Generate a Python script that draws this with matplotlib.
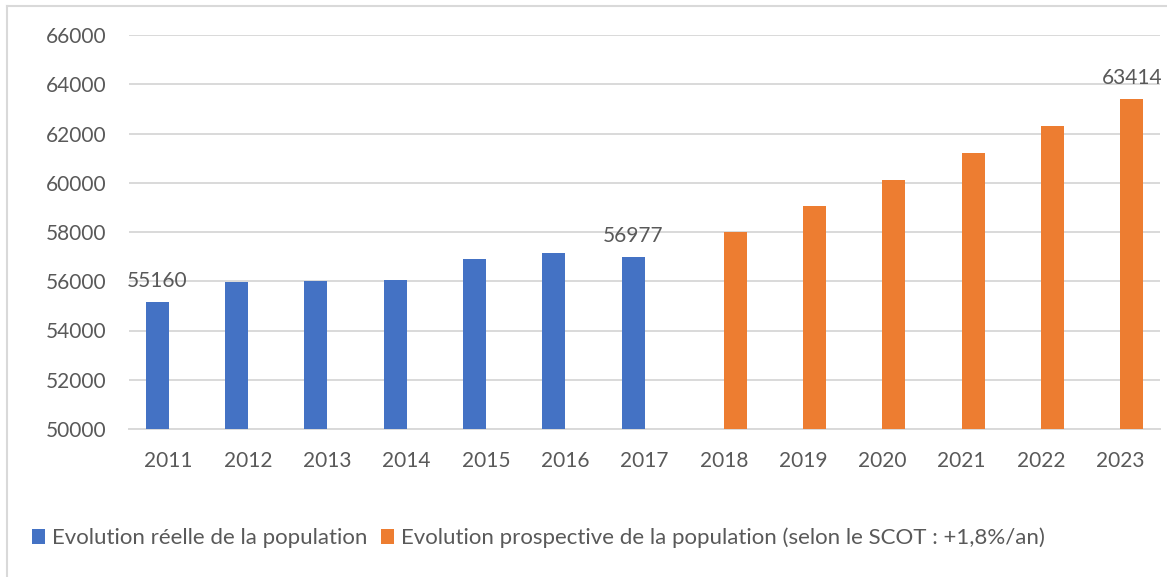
import numpy as np
import matplotlib.pyplot as plt
from matplotlib.lines import Line2D

years = ["2011", "2012", "2013", "2014", "2015", "2016", "2017",
         "2018", "2019", "2020", "2021", "2022", "2023"]
reelle = [55160, 55950, 56000, 56050, 56900, 57160, 56977,
          None, None, None, None, None, None]
prospective = [None, None, None, None, None, None, None,
               58003, 59047, 60110, 61192, 62293, 63414]
labelled = {"2011": 55160, "2017": 56977, "2023": 63414}

label_reelle = "Evolution réelle de la population"
label_prosp = "Evolution prospective de la population (selon le SCOT : +1,8%/an)"

blue = "#4472C4"
orange = "#ED7D31"
grey_text = "#595959"
grid_col = "#D9D9D9"

plt.rcParams['font.family'] = ['Lato', 'DejaVu Sans']

W, H = 1167, 577
fig = plt.figure(figsize=(W / 100, H / 100), dpi=100)
ax = fig.add_axes([129 / W, 1 - 429 / H, 1031 / W, (429 - 35) / H])

x = np.arange(len(years))
w = 0.29
xr = [i for i, v in zip(x, reelle) if v is not None]
vr = [v for v in reelle if v is not None]
xp = [i for i, v in zip(x, prospective) if v is not None]
vp = [v for v in prospective if v is not None]

ax.bar(np.array(xr) - w / 2, np.array(vr) - 50000, bottom=50000, width=w,
       color=blue, label=label_reelle, zorder=3)
ax.bar(np.array(xp) + w / 2, np.array(vp) - 50000, bottom=50000, width=w,
       color=orange, label=label_prosp, zorder=3)

for yr, val in labelled.items():
    i = years.index(yr)
    off = -w / 2 if reelle[i] is not None else w / 2
    ax.annotate(str(val), (i + off, val), xytext=(0, 8), textcoords="offset points",
                ha="center", va="bottom", fontsize=15, color=grey_text)

ax.set_xlim(-0.5, len(years) - 0.5)
ax.set_ylim(50000, 66000)
ax.set_yticks(np.arange(50000, 66001, 2000))
ax.set_xticks(x)
ax.set_xticklabels(years)
ax.tick_params(axis="both", length=0, labelsize=15, labelcolor=grey_text)
ax.tick_params(axis="x", pad=16)
ax.tick_params(axis="y", pad=16)
ax.grid(axis="y", color=grid_col, linewidth=1.4, zorder=0)
for s in ["top", "right", "left"]:
    ax.spines[s].set_visible(False)
ax.spines["bottom"].set_color(grid_col)
ax.spines["bottom"].set_linewidth(1.4)

fig.legend(loc="center left", bbox_to_anchor=(32 / W, 1 - 538 / H), ncol=2,
           frameon=False, fontsize=16, labelcolor=grey_text,
           handlelength=0.6, handleheight=0.6, handletextpad=0.3,
           columnspacing=0.6, borderaxespad=0, borderpad=0)

# outer chart frame (only top and left visible in the crop)
fig.add_artist(Line2D([7 / W, 7 / W], [0, 1 - 6 / H], color=grid_col, lw=1.5))
fig.add_artist(Line2D([7 / W, 1], [1 - 6 / H, 1 - 6 / H], color=grid_col, lw=1.5))

fig.savefig("out.png", dpi=100)
